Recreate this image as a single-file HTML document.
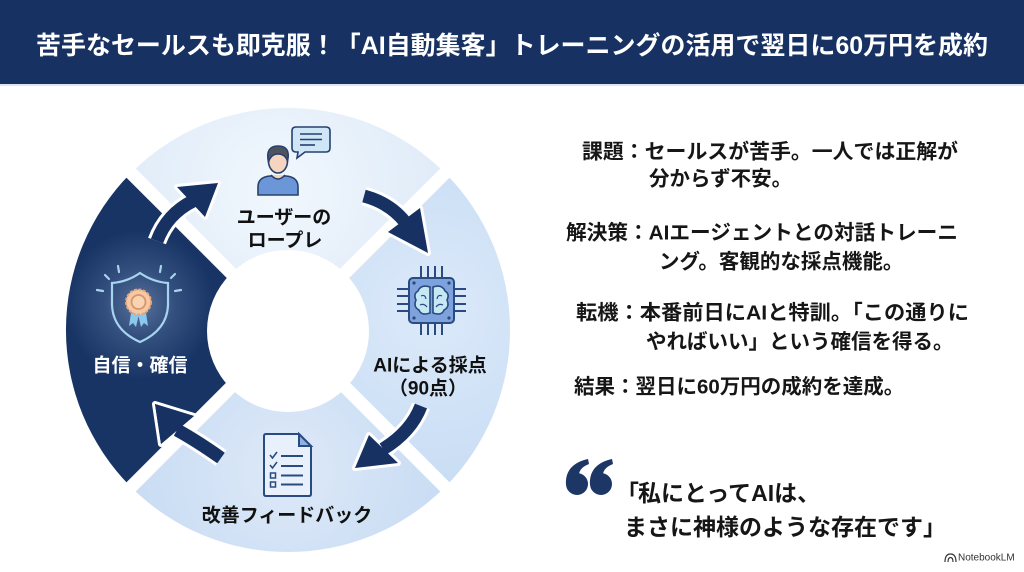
<!DOCTYPE html>
<html><head><meta charset="utf-8">
<style>
html,body{margin:0;padding:0;background:#fff;}
body{width:1024px;height:572px;overflow:hidden;}
svg{display:block;}
text{font-family:"Liberation Sans","Noto Sans CJK JP",sans-serif;font-weight:bold;}
</style></head>
<body>
<svg width="1024" height="572" viewBox="0 0 1024 572" xmlns="http://www.w3.org/2000/svg">
<defs>
  <radialGradient id="gTop" cx="280" cy="190" r="170" gradientUnits="userSpaceOnUse">
    <stop offset="0" stop-color="#f1f7fd"/><stop offset="1" stop-color="#dfebf8"/>
  </radialGradient>
  <radialGradient id="gRight" cx="430" cy="310" r="170" gradientUnits="userSpaceOnUse">
    <stop offset="0" stop-color="#dceafa"/><stop offset="1" stop-color="#c9ddf4"/>
  </radialGradient>
  <radialGradient id="gBot" cx="287" cy="470" r="170" gradientUnits="userSpaceOnUse">
    <stop offset="0" stop-color="#dde9f8"/><stop offset="1" stop-color="#c7dbf3"/>
  </radialGradient>
  <radialGradient id="gLeft" cx="140" cy="305" r="75" gradientUnits="userSpaceOnUse">
    <stop offset="0" stop-color="#6f87ad"/><stop offset="0.45" stop-color="#34507f"/><stop offset="1" stop-color="#173464"/>
  </radialGradient>
</defs>

<!-- header -->
<rect x="0" y="0" width="1024" height="84" fill="#163162"/>
<rect x="0" y="84" width="1024" height="2" fill="#dfe5ee"/>
<text x="512" y="46" text-anchor="middle" dominant-baseline="central" font-size="25" fill="#ffffff" textLength="952" lengthAdjust="spacingAndGlyphs">苦手なセールスも即克服！「AI自動集客」トレーニングの活用で翌日に60万円を成約</text>

<!-- ring segments -->
<path d="M288,330 L131,173 A222,222 0 0 1 445,173 Z" fill="url(#gTop)"/>
<path d="M288,330 L445,173 A222,222 0 0 1 445,487 Z" fill="url(#gRight)"/>
<path d="M288,330 L445,487 A222,222 0 0 1 131,487 Z" fill="url(#gBot)"/>
<path d="M288,330 L131,487 A222,222 0 0 1 131,173 Z" fill="url(#gLeft)"/>
<line x1="110" y1="152" x2="466" y2="508" stroke="#fff" stroke-width="13"/>
<line x1="466" y1="152" x2="110" y2="508" stroke="#fff" stroke-width="13"/>
<circle cx="288" cy="331" r="81" fill="#fff"/>

<!-- arrows: white outlines -->
<g fill="none" stroke="#ffffff">
  <path d="M157,241 Q167,214 193,201" stroke-width="19"/>
  <path d="M364,196 Q390,203 405,222" stroke-width="19"/>
  <path d="M421,406 Q411,432 383,449" stroke-width="19"/>
  <path d="M221,458 Q197,441 177,430" stroke-width="19"/>
</g>
<g fill="#ffffff" stroke="#ffffff" stroke-width="6" stroke-linejoin="round">
  <path d="M218,183 L177,187 L205,217 Z"/>
  <path d="M428,253 L388,232 L420,208 Z"/>
  <path d="M355,468 L369,435 L398,463 Z"/>
  <path d="M155,404 L161,444 L194,416 Z"/>
</g>
<!-- arrows: navy bodies -->
<g fill="#163162" stroke="none">
  <path d="M218,183 L177,187 L205,217 Z"/>
  <path d="M428,253 L388,232 L420,208 Z"/>
  <path d="M355,468 L369,435 L398,463 Z"/>
  <path d="M155,404 L161,444 L194,416 Z"/>
</g>
<g fill="none" stroke="#163162" stroke-width="13">
  <path d="M157,241 Q167,214 193,201"/>
  <path d="M364,196 Q390,203 405,222"/>
  <path d="M421,406 Q411,432 383,449"/>
  <path d="M221,458 Q197,441 177,430"/>
</g>
<path d="M155,404 L161,444 L194,416 Z" fill="#163162"/>

<!-- person icon -->
<g stroke="#27406e" stroke-width="1.6">
  <path d="M258,195 L258,187 Q258,177 270,176 L286,176 Q298,177 298,187 L298,195 Z" fill="#6b97d8"/>
  <path d="M271,175 Q278,183 285,175" fill="#f6d5c0"/>
  <ellipse cx="278" cy="161" rx="9.5" ry="12" fill="#f6d5c0"/>
  <path d="M268.5,162 Q265,146 278,146 Q291,146 287.5,161 Q285,154 278,154 Q271,154 268.5,162 Z" fill="#4d535f"/>
  <path d="M296,127 L326,127 Q330,127 330,131 L330,148 Q330,152 326,152 L305,152 L297,158 L298,152 L296,152 Q292,152 292,148 L292,131 Q292,127 296,127 Z" fill="#cfe6f7"/>
  <line x1="300" y1="134" x2="322" y2="134"/>
  <line x1="300" y1="139.5" x2="322" y2="139.5"/>
  <line x1="300" y1="145" x2="315" y2="145"/>
</g>
<text x="284" y="218" text-anchor="middle" dominant-baseline="central" font-size="19" fill="#111">ユーザーの</text>
<text x="285" y="241" text-anchor="middle" dominant-baseline="central" font-size="19" fill="#111">ロープレ</text>

<!-- chip icon -->
<g stroke="#2a4a82" stroke-width="2" fill="none">
  <line x1="421" y1="266" x2="421" y2="278"/><line x1="428" y1="266" x2="428" y2="278"/>
  <line x1="435" y1="266" x2="435" y2="278"/><line x1="442" y1="266" x2="442" y2="278"/>
  <line x1="421" y1="323" x2="421" y2="335"/><line x1="428" y1="323" x2="428" y2="335"/>
  <line x1="435" y1="323" x2="435" y2="335"/><line x1="442" y1="323" x2="442" y2="335"/>
  <line x1="397" y1="289" x2="409" y2="289"/><line x1="397" y1="296" x2="409" y2="296"/>
  <line x1="397" y1="304" x2="409" y2="304"/><line x1="397" y1="311" x2="409" y2="311"/>
  <line x1="454" y1="289" x2="466" y2="289"/><line x1="454" y1="296" x2="466" y2="296"/>
  <line x1="454" y1="304" x2="466" y2="304"/><line x1="454" y1="311" x2="466" y2="311"/>
  <rect x="409" y="278" width="45" height="45" rx="4" fill="#7ea3dc"/>
  <path d="M430,287 Q421,284 418,291 Q413,294 416,300 Q413,307 419,310 Q421,316 430,313 Z" fill="#c6e8f5" stroke-width="1.6"/>
  <path d="M433,287 Q442,284 445,291 Q450,294 447,300 Q450,307 444,310 Q442,316 433,313 Z" fill="#c6e8f5" stroke-width="1.6"/>
  <path d="M421,296 Q425,294 426,299 M420,305 Q424,303 427,307 M442,296 Q438,294 437,299 M443,305 Q439,303 436,307" stroke-width="1.2"/>
</g>
<g fill="#2a4a82"><circle cx="414" cy="283" r="1.6"/><circle cx="449" cy="283" r="1.6"/><circle cx="414" cy="318" r="1.6"/><circle cx="449" cy="318" r="1.6"/></g>
<text x="430" y="366" text-anchor="middle" dominant-baseline="central" font-size="19" fill="#111">AIによる採点</text>
<text x="428" y="389" text-anchor="middle" dominant-baseline="central" font-size="19" fill="#111">（90点）</text>

<!-- document icon -->
<g stroke="#2a4a82" stroke-width="2" fill="none">
  <path d="M266,434 L299,434 L311,446 L311,494 Q311,496 309,496 L266,496 Q264,496 264,494 L264,436 Q264,434 266,434 Z" fill="#e8f0fb"/>
  <path d="M299,434 L299,446 L311,446 Z" fill="#8fb0e0"/>
  <path d="M270,455 L272.5,458 L277,452 M270,465 L272.5,468 L277,462" stroke-width="1.6"/>
  <rect x="270.5" y="473" width="5" height="5" stroke-width="1.5"/>
  <rect x="270.5" y="482" width="5" height="5" stroke-width="1.5"/>
  <line x1="281" y1="456" x2="303" y2="456"/><line x1="281" y1="466" x2="303" y2="466"/>
  <line x1="281" y1="475.5" x2="303" y2="475.5"/><line x1="281" y1="484.5" x2="303" y2="484.5"/>
</g>
<text x="287" y="516" text-anchor="middle" dominant-baseline="central" font-size="19" fill="#111">改善フィードバック</text>

<!-- shield icon -->
<g stroke="#a9d4ef" stroke-width="2.2" stroke-linecap="round" fill="none">
  <line x1="97" y1="290" x2="103" y2="291"/>
  <line x1="105" y1="275" x2="109" y2="279"/>
  <line x1="118" y1="266" x2="119" y2="272"/>
  <line x1="161" y1="266" x2="160" y2="272"/>
  <line x1="175" y1="274" x2="171" y2="278"/>
  <line x1="181" y1="290" x2="175" y2="291"/>
  <path d="M140,273 Q127,282 112,283 L112,305 Q113,330 140,342 Q167,330 168,305 L168,283 Q153,282 140,273 Z" fill="#2c4876" fill-opacity="0.35"/>
</g>
<path d="M131,313 L129,326 L133,323 L136,327 L139,314 Z" fill="#8cc7ee"/>
<path d="M146,313 L148,326 L144,323 L141,327 L138,314 Z" fill="#8cc7ee"/>
<circle cx="138.5" cy="302" r="12.5" fill="#f6c9a4" stroke="#e4a77d" stroke-width="2" stroke-dasharray="3 1.5"/>
<circle cx="138.5" cy="302" r="7" fill="#f8d4b5" stroke="#d9956a" stroke-width="1.8"/>
<text x="140" y="366" text-anchor="middle" dominant-baseline="central" font-size="19" fill="#ffffff">自信・確信</text>

<!-- right side text -->
<g font-size="20.5" fill="#161616">
  <text x="582" y="152" dominant-baseline="central" textLength="376" lengthAdjust="spacingAndGlyphs">課題：セールスが苦手。一人では正解が</text>
  <text x="649" y="179" dominant-baseline="central">分からず不安。</text>
  <text x="566" y="233" dominant-baseline="central" textLength="392" lengthAdjust="spacingAndGlyphs">解決策：AIエージェントとの対話トレーニ</text>
  <text x="659" y="262" dominant-baseline="central">ング。客観的な採点機能。</text>
  <text x="576" y="313" dominant-baseline="central" textLength="393" lengthAdjust="spacingAndGlyphs">転機：本番前日にAIと特訓。「この通りに</text>
  <text x="646" y="342" dominant-baseline="central">やればいい」という確信を得る。</text>
  <text x="574" y="387" dominant-baseline="central">結果：翌日に60万円の成約を達成。</text>
</g>

<!-- quote marks -->
<g fill="#1c3766">
  <circle cx="577" cy="484" r="11"/>
  <path d="M566,485 C565,470 574,462 588,459 L589,464 C581,467 578,472 579,478 Z"/>
  <circle cx="601" cy="484" r="11"/>
  <path d="M590,485 C589,470 598,462 612,459 L613,464 C605,467 602,472 603,478 Z"/>
</g>
<g font-size="23" fill="#161616">
  <text x="616" y="493" dominant-baseline="central">「</text>
  <text x="638" y="493" dominant-baseline="central">私にとってAIは、</text>
  <text x="624" y="527" dominant-baseline="central">まさに神様のような存在です」</text>
</g>

<!-- NotebookLM logo -->
<g stroke="#333" stroke-width="1.2" fill="none">
  <path d="M945,562 Q945,554 950.5,554 Q956,554 956,562"/>
  <path d="M948,562 Q948,557.5 950.5,557.5 Q953,557.5 953,562"/>
</g>
<text x="958" y="558" dominant-baseline="central" font-size="10" fill="#333" style="font-weight:normal">NotebookLM</text>
</svg>
</body></html>
